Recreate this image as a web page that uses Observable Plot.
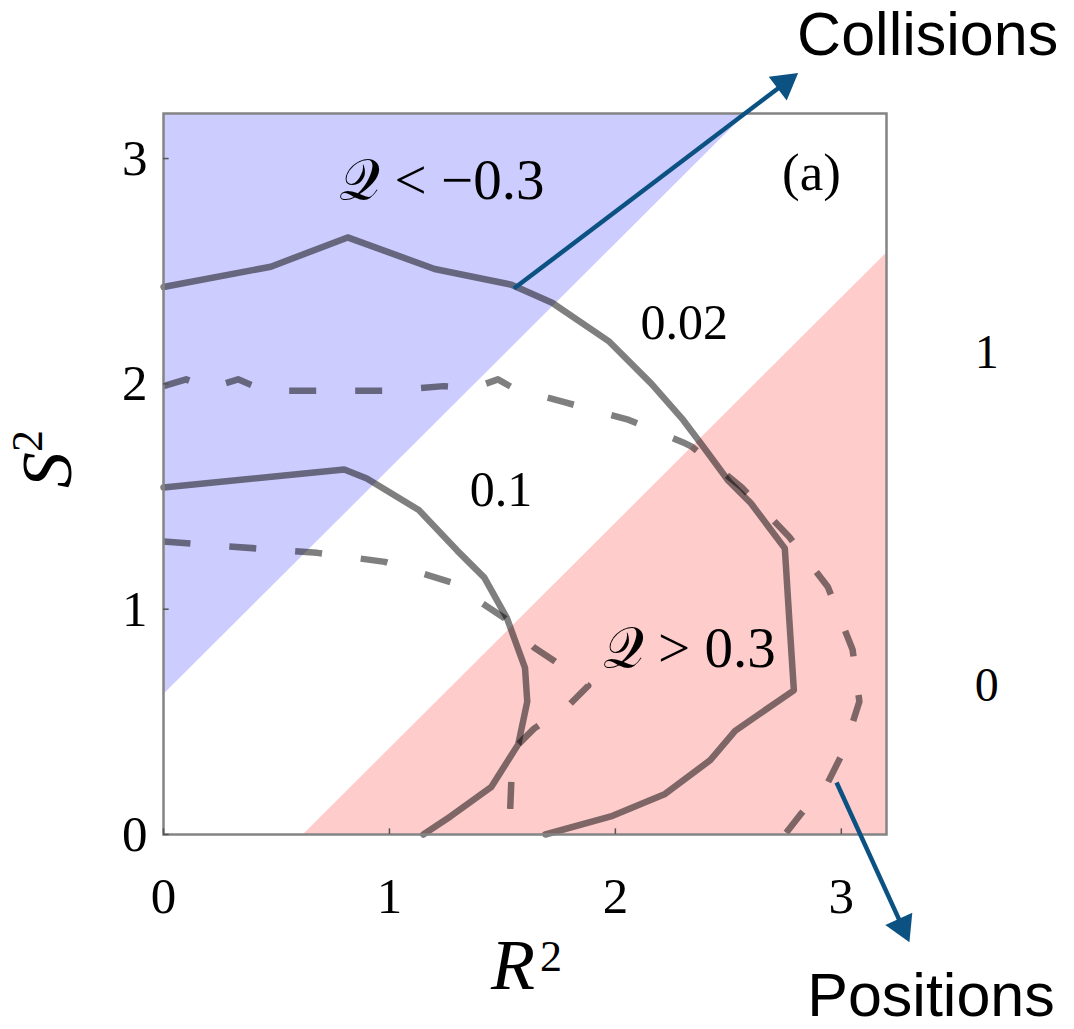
<!DOCTYPE html>
<html>
<head>
<meta charset="utf-8">
<script src="https://cdn.jsdelivr.net/npm/d3@7"></script>
<script src="https://cdn.jsdelivr.net/npm/@observablehq/plot@0.6"></script>
<style>
  body { margin: 0; background: #fff; }
  svg { display: block; }
</style>
</head>
<body>
<div id="chart"></div>
<script>
// Axis extent and tick values (R² on x, S² on y)
const axisDomain = [0, 3.2];
const tickValues = [0, 1, 2, 3];

// Shaded bands: [R², lower S², upper S²]
const collisionBand = [[0, 0.62, 3.2], [2.58, 3.2, 3.2]];   // Q < -0.3
const positionBand  = [[0.62, 0, 0], [3.2, 0, 2.58]];       // Q > 0.3

// Contour levels, [R², S²] points
const solid002 = [[0, 2.43], [0.475, 2.52], [0.815, 2.65], [1.2, 2.51], [1.54, 2.44], [1.72, 2.36],
  [1.97, 2.19], [2.16, 2.0], [2.3, 1.84], [2.39, 1.72], [2.5, 1.57], [2.6, 1.47], [2.75, 1.27],
  [2.77, 0.95], [2.79, 0.64], [2.53, 0.46], [2.42, 0.33], [2.22, 0.18], [1.98, 0.08], [1.69, 0]];
const solid01 = [[0, 1.54], [0.8, 1.62], [0.9, 1.58], [1.13, 1.44], [1.3, 1.26], [1.42, 1.14],
  [1.52, 0.96], [1.6, 0.74], [1.61, 0.59], [1.57, 0.4], [1.45, 0.21], [1.27, 0.08], [1.15, 0]];
const dashed002 = [[0, 1.99], [0.1, 2.02], [0.2, 1.98], [0.33, 2.02], [0.45, 1.97], [0.7, 1.97],
  [1.0, 1.97], [1.24, 1.99], [1.37, 1.98], [1.48, 2.02], [1.55, 1.98], [1.77, 1.92], [2.06, 1.84],
  [2.3, 1.74], [2.34, 1.72], [2.56, 1.54], [2.77, 1.32], [2.94, 1.1], [3.05, 0.82], [3.08, 0.59],
  [3.01, 0.37], [2.94, 0.23], [2.82, 0.09], [2.75, 0]];
const dashed01 = [[0, 1.3], [0.68, 1.25], [0.98, 1.21], [1.27, 1.12], [1.51, 0.96], [1.64, 0.83],
  [1.73, 0.77], [1.88, 0.66], [1.8, 0.58], [1.64, 0.47], [1.57, 0.4], [1.54, 0.25], [1.53, 0]];

// In-plot labels: [R², S², text]
const regionLabels = [[1.232, 2.9, "𝒬 < −0.3"], [2.327, 0.826, "𝒬 > 0.3"]];
const levelLabels = [[2.305, 2.268, "0.02"], [1.494, 1.527, "0.1"]];
const panelLabel = [[2.868, 2.938, "(a)"]];
const sideLabels = [[3.644, 2.14, "1"], [3.644, 0.661, "0"]];

// Callouts: start point, arrow tip, caption position and caption
const callouts = [
  {from: [1.551, 2.423], to: [2.81, 3.38], at: [3.382, 3.546], text: "Collisions"},
  {from: [2.979, 0.231], to: [3.302, -0.479], at: [3.397, -0.719], text: "Positions"}
];

const arrowColor = "#0b5283";
const headCenterBack = 0.077;  // centroid of the head behind the tip (data units)
const arrowParts = callouts.map(c => {
  const dx = c.to[0] - c.from[0], dy = c.to[1] - c.from[1];
  const len = Math.hypot(dx, dy), ux = dx / len, uy = dy / len;
  return {
    x1: c.from[0], y1: c.from[1],
    x2: c.to[0] - ux * headCenterBack, y2: c.to[1] - uy * headCenterBack,
    hx: c.to[0] - ux * headCenterBack, hy: c.to[1] - uy * headCenterBack,
    angle: Math.atan2(dx, dy) * 180 / Math.PI
  };
});

const serif = "'Liberation Serif', 'DejaVu Serif', serif";
const lineStyle = {x: d => d[0], y: d => d[1], stroke: "#000", strokeOpacity: 0.5, strokeWidth: 6.5, strokeLinejoin: "round"};
const dashStyle = {...lineStyle, strokeDasharray: "27,39", strokeLinecap: "butt"};

const chart = Plot.plot({
  width: 1074,
  height: 1029,
  marginLeft: 163,
  marginRight: 188,
  marginTop: 113,
  marginBottom: 195,
  x: {domain: axisDomain},
  y: {domain: axisDomain},
  style: {fontFamily: serif, background: "#fff", color: "#000"},
  marks: [
    Plot.areaY(collisionBand, {x: d => d[0], y1: d => d[1], y2: d => d[2], fill: "#ccccff"}),
    Plot.areaY(positionBand, {x: d => d[0], y1: d => d[1], y2: d => d[2], fill: "#ffcccc"}),
    Plot.line(solid002, lineStyle),
    Plot.line(solid01, lineStyle),
    Plot.line(dashed002, dashStyle),
    Plot.line(dashed01, dashStyle),
    Plot.frame({stroke: "#848484", strokeWidth: 2.5}),
    Plot.ruleY(tickValues, {x1: 0, x2: 0.025, stroke: "#555", strokeWidth: 1.5}),
    Plot.ruleX(tickValues, {y1: 0, y2: 0.025, stroke: "#555", strokeWidth: 1.5}),
    Plot.axisX({ticks: tickValues, tickFormat: d3.format("d"), tickSize: 0, tickPadding: 42, fontSize: 51, label: null}),
    Plot.axisY({ticks: tickValues, tickFormat: d3.format("d"), tickSize: 0, tickPadding: 16, fontSize: 51, label: null}),
    // axis titles: italic letter with a raised exponent
    Plot.text(["R"], {frameAnchor: "bottom", dx: -12, dy: 154, fontSize: 72, fontStyle: "italic", fontFamily: serif}),
    Plot.text(["2"], {frameAnchor: "bottom", dx: 26, dy: 136, fontSize: 44, fontFamily: serif}),
    Plot.text(["S"], {frameAnchor: "left", dx: -116, dy: 14, rotate: -90, fontSize: 72, fontStyle: "italic", fontFamily: serif}),
    Plot.text(["2"], {frameAnchor: "left", dx: -136, dy: -22, rotate: -90, fontSize: 44, fontFamily: serif}),
    Plot.text(regionLabels, {x: d => d[0], y: d => d[1], text: d => d[2], fontSize: 57, fontFamily: serif}),
    Plot.text(levelLabels, {x: d => d[0], y: d => d[1], text: d => d[2], fontSize: 50, fontFamily: serif}),
    Plot.text(panelLabel, {x: d => d[0], y: d => d[1], text: d => d[2], fontSize: 53, fontFamily: serif}),
    Plot.text(sideLabels, {x: d => d[0], y: d => d[1], text: d => d[2], fontSize: 48, fontFamily: serif}),
    Plot.link(arrowParts, {x1: "x1", y1: "y1", x2: "x2", y2: "y2", stroke: arrowColor, strokeWidth: 4.5}),
    Plot.dot(arrowParts, {x: "hx", y: "hy", symbol: "triangle", r: 11, fill: arrowColor, stroke: "none", rotate: "angle"}),
    Plot.text(callouts, {x: d => d.at[0], y: d => d.at[1], text: "text", fontSize: 61,
      fontFamily: "'Liberation Sans', Arial, sans-serif"})
  ]
});

document.getElementById("chart").append(chart);
</script>
</body>
</html>
